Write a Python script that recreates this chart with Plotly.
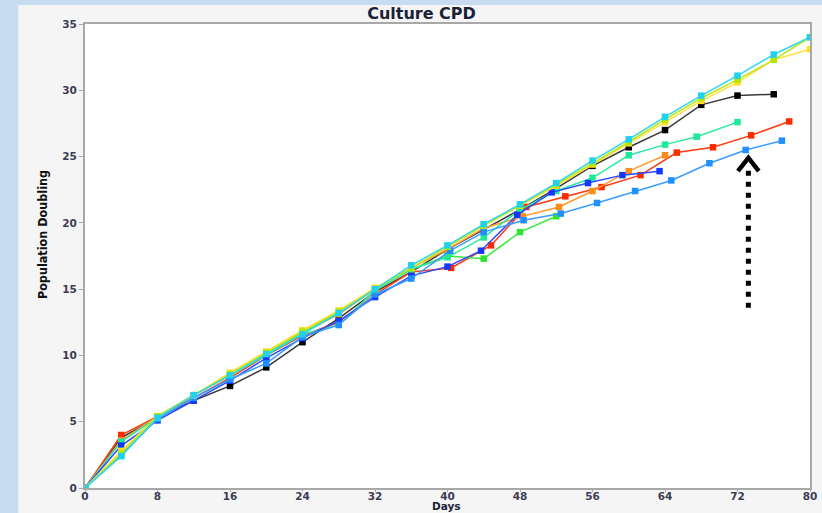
import plotly.graph_objects as go

# ---------------- data ----------------
cyan_days = [0, 4, 8, 12, 16, 20, 24, 28, 32, 36, 40, 44, 48, 52, 56, 60, 64, 68, 72, 76, 80]
cyan_vals = [0, 2.4, 5.3, 7.0, 8.5, 10.1, 11.6, 13.2, 15.0, 16.8, 18.3, 19.9, 21.4, 23.0, 24.7, 26.3, 28.0, 29.6, 31.1, 32.7, 34.0]

yellow_days = [0, 4, 8, 12, 16, 20, 24, 28, 32, 36, 40, 44, 48, 52, 56, 60, 64, 68, 72, 76, 80]
yellow_vals = [0, 2.8, 5.4, 7.0, 8.7, 10.3, 11.9, 13.4, 15.1, 16.6, 18.2, 19.8, 21.3, 22.8, 24.4, 26.0, 27.6, 29.2, 30.6, 32.3, 33.1]

lime_days = [0, 4, 8, 12, 16, 20, 24, 28, 32, 36, 40, 44, 48, 52, 56, 60, 64, 68, 72, 76, 80]
lime_vals = [0, 2.6, 5.4, 7.0, 8.6, 10.2, 11.8, 13.3, 15.0, 16.6, 18.2, 19.8, 21.3, 22.9, 24.5, 26.1, 27.8, 29.4, 30.8, 32.3, 34.0]

black_days = [0, 4, 8, 12, 16, 20, 24, 28, 32, 36, 40, 44, 48, 52, 56, 60, 64, 68, 72, 76]
black_vals = [0, 3.8, 5.3, 6.6, 7.7, 9.1, 11.0, 12.8, 14.8, 16.3, 18.0, 19.5, 21.0, 22.6, 24.3, 25.7, 27.0, 28.9, 29.6, 29.7]

teal_days = [0, 4, 8, 12, 16, 20, 24, 28, 32, 36, 40, 44, 48, 52, 56, 60, 64, 67.5, 72]
teal_vals = [0, 3.5, 5.3, 7.0, 8.5, 10.0, 11.6, 12.3, 14.9, 16.5, 17.4, 18.9, 21.0, 22.4, 23.4, 25.1, 25.9, 26.5, 27.6]

green_days = [0, 4, 8, 12, 16, 20, 24, 28, 32, 36, 40, 44, 48, 52]
green_vals = [0, 2.6, 5.4, 7.0, 8.6, 10.2, 11.7, 13.2, 15.0, 16.5, 17.5, 17.3, 19.3, 20.5]

red_days = [0, 4, 8, 12, 16, 20, 24, 28, 32, 36, 40.4, 44.8, 48.7, 53, 57, 61.3, 65.3, 69.3, 73.5, 77.7]
red_vals = [0, 4.0, 5.4, 6.8, 8.3, 10.0, 11.5, 12.5, 14.6, 16.3, 16.6, 18.3, 21.2, 22.0, 22.7, 23.6, 25.3, 25.7, 26.6, 27.65]

orange_days = [0, 4, 8, 12, 16, 20, 24, 28, 32, 36, 40, 44, 48.3, 52.3, 56, 60, 64]
orange_vals = [0, 3.6, 5.4, 7.0, 8.5, 10.2, 11.7, 13.1, 15.0, 16.6, 18.0, 19.6, 20.5, 21.2, 22.4, 23.9, 25.1]

dodger_days = [0, 4, 8, 12, 16, 20, 24, 28, 32, 36, 40.3, 44, 48.4, 52.5, 56.5, 60.7, 64.7, 68.9, 72.9, 76.9]
dodger_vals = [0, 2.5, 5.2, 6.8, 8.2, 9.4, 11.4, 12.3, 14.6, 15.8, 17.9, 19.3, 20.2, 20.7, 21.5, 22.4, 23.2, 24.5, 25.5, 26.2]

blue_days = [0, 4, 8, 12, 16, 20, 24, 28, 32, 36, 40, 43.7, 47.7, 51.5, 55.5, 59.3, 63.4]
blue_vals = [0, 3.2, 5.1, 6.6, 8.1, 9.8, 11.3, 12.6, 14.4, 16.0, 16.7, 17.9, 20.6, 22.3, 23.0, 23.6, 23.9]

x_ticks = [0, 8, 16, 24, 32, 40, 48, 56, 64, 72, 80]
y_ticks = [0, 5, 10, 15, 20, 25, 30, 35]

# arrow annotation (dotted shaft + chevron head), in data units
arrow_x = 73.2
arrow_y0 = 13.6
arrow_y1 = 24.2
head_top = 24.9
head_half_w = 1.15
head_drop = 1.0

# ---------------- figure ----------------
series = [
    ("black", black_days, black_vals, "#000000", "#3a3a3a"),
    ("red", red_days, red_vals, "#ff2a00", "#ff3a10"),
    ("orange", orange_days, orange_vals, "#ff8c1a", "#ff9a33"),
    ("green", green_days, green_vals, "#2ee62e", "#3de83d"),
    ("teal", teal_days, teal_vals, "#1ee89a", "#2ee8a0"),
    ("blue", blue_days, blue_vals, "#1438ff", "#2a4cff"),
    ("dodger", dodger_days, dodger_vals, "#1e90ff", "#3a9cff"),
    ("yellow", yellow_days, yellow_vals, "#ffdd22", "#ffe040"),
    ("lime", lime_days, lime_vals, "#b4e600", "#bde81a"),
    ("cyan", cyan_days, cyan_vals, "#1ed2f0", "#30d6f2"),
]

# small compensation for the photo coming out slightly narrower than the CSS size
KX = 1.006
KY = 1.004

fig = go.Figure()
for name, xs, ys, mc, lc in series:
    fig.add_trace(go.Scatter(
        x=xs, y=ys, name=name, mode="lines+markers",
        line=dict(color=lc, width=1.5),
        marker=dict(symbol="square", size=6.5, color=mc, line=dict(width=0)),
        showlegend=False, cliponaxis=True,
    ))

W0, H0 = 822, 513
ml0, mr0, mt0, mb0 = 84, 10, 24, 27
W, H = round(W0 * KX), round(H0 * KY)
ml, mr, mt, mb = ml0 * KX, mr0 * KX, mt0 * KY, mb0 * KY
pw, ph = W - ml - mr, H - mt - mb


def px_x(p):
    return (p * KX - ml) / pw


def px_y(p):
    return (H - mb - p * KY) / ph


shapes = [
    # bluish slide background strips (left and top)
    dict(type="rect", xref="paper", yref="paper", x0=px_x(-2), x1=px_x(17), y0=px_y(H0 + 3), y1=px_y(-2),
         fillcolor="#c7dbf1", line=dict(width=0), layer="below"),
    dict(type="rect", xref="paper", yref="paper", x0=px_x(-2), x1=px_x(W0 + 3), y0=px_y(5), y1=px_y(-2),
         fillcolor="#c7dbf1", line=dict(width=0), layer="below"),
    # dotted arrow shaft
    dict(type="line", xref="x", yref="y", x0=arrow_x, x1=arrow_x, y0=arrow_y0, y1=arrow_y1,
         line=dict(color="black", width=5, dash="5px,6px")),
    # chevron head
    dict(type="path", xref="x", yref="y",
         path=f"M {arrow_x - head_half_w} {head_top - head_drop} L {arrow_x} {head_top} L {arrow_x + head_half_w} {head_top - head_drop}",
         line=dict(color="black", width=4.5)),
]

tick_font = dict(family="DejaVu Sans", size=10.5, color="#3c3c52", weight="bold")

fig.update_layout(
    width=W, height=H, autosize=False,
    margin=dict(l=ml, r=mr, t=mt, b=mb, pad=0),
    paper_bgcolor="#f5f5f5",
    plot_bgcolor="#ffffff",
    shapes=shapes,
    title=dict(text="Culture CPD", x=419 * KX / W, xanchor="center",
               y=1 - 13 * KY / H, yanchor="middle",
               font=dict(family="DejaVu Sans", size=16, color="#1a2238", weight="bold")),
    xaxis=dict(range=[0, 80], tickvals=x_ticks, ticktext=[str(v) for v in x_ticks],
               showgrid=False, zeroline=False, showline=True, linecolor="#a8a8a8", linewidth=2,
               mirror=True, ticks="outside", ticklen=2, tickcolor="#a8a8a8", tickwidth=1,
               ticklabelstandoff=-5, tickfont=tick_font),
    yaxis=dict(range=[0, 35], tickvals=y_ticks, ticktext=[str(v) for v in y_ticks],
               showgrid=False, zeroline=False, showline=True, linecolor="#a8a8a8", linewidth=2,
               mirror=True, ticks="outside", ticklen=4, tickcolor="#a8a8a8", tickwidth=1,
               tickfont=tick_font),
    annotations=[
        dict(text="Days", xref="paper", yref="paper", x=px_x(447), y=px_y(504),
             xanchor="center", yanchor="middle", showarrow=False,
             font=dict(family="DejaVu Sans", size=10.5, color="#1a2238", weight="bold")),
        dict(text="Population Doubling", xref="paper", yref="paper", x=px_x(42), y=px_y(234),
             xanchor="center", yanchor="middle", textangle=-90, showarrow=False,
             font=dict(family="DejaVu Sans Condensed, Liberation Sans Narrow, Roboto Condensed, Liberation Sans, sans-serif",
                       size=12.5, color="#111111", weight="bold")),
    ],
)

fig.write_html(
    "out.html",
    config={"displayModeBar": False, "responsive": False},
    post_script="document.body.style.margin='0';document.body.style.overflow='hidden';",
)
